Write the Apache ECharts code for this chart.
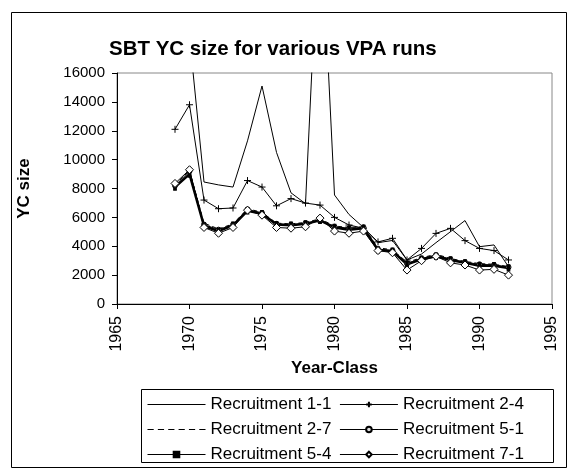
<!DOCTYPE html>
<html>
<head>
<meta charset="utf-8">
<script src="https://cdn.jsdelivr.net/npm/echarts@6/dist/echarts.min.js"></script>
<style>
  html, body { margin: 0; padding: 0; background: #fff; }
  #chart { width: 578px; height: 474px; }
</style>
</head>
<body>
<div id="chart"></div>
<script>
// year classes
var years = [1969, 1970, 1971, 1972, 1973, 1974, 1975, 1976, 1977, 1978, 1979, 1980,
             1981, 1982, 1983, 1984, 1985, 1986, 1987, 1988, 1989, 1990, 1991, 1992];

// YC size per VPA run (values above 16000 run off the top)
var rec11 = [null, 18500, 8450, 8250, 8100, 11300, 15100, 10500, 7700, 6950, 28000, 7550,
             6200, 5300, 4250, 4400, 3050, 3460, 4250, 5010, 5780, 3970, 4090, 2580];
var rec24 = [12100, 13800, 7200, 6600, 6650, 8550, 8100, 6800, 7300, 6990, 6850, 6000,
             5470, 5250, 4300, 4550, 3050, 3850, 4890, 5240, 4390, 3850, 3700, 3050];
var rec27 = [8250, 9250, 5600, 5200, 5550, 6600, 6350, 5600, 5550, 5650, 5900, 5400,
             5300, 5350, 3900, 3750, 2900, 3200, 3450, 3150, 2950, 2800, 2750, 2600];
var rec51 = [8200, 9200, 5500, 5150, 5500, 6550, 6300, 5550, 5500, 5600, 5750, 5350,
             5250, 5300, 3800, 3700, 2800, 3150, 3400, 3100, 2900, 2750, 2700, 2550];
var rec54 = [8100, 9000, 5400, 5050, 5450, 6450, 6250, 5500, 5450, 5550, 5800, 5300,
             5150, 5250, 3750, 3650, 2750, 3100, 3300, 3050, 2850, 2650, 2650, 2500];
var rec71 = [8350, 9300, 5300, 4900, 5300, 6500, 6150, 5300, 5250, 5350, 5950, 5050,
             4900, 5050, 3700, 3550, 2350, 3000, 3300, 2850, 2700, 2350, 2400, 2000];

var FONT = '"Liberation Sans", Arial, sans-serif';
var plusSym = 'path://M0,5H10M5,0V10';
// legend icons for the runs drawn without markers
var plainIcon = 'path://M0,0H58V1H0Z';
var dashIcon = 'path://M0,0H6V1H0Z M10,0H16V1H10Z M20,0H26V1H20Z M30,0H36V1H30Z M40,0H46V1H40Z M50,0H56V1H50Z';

function pairs(vals){
	var out = [];
	for (var i = 0; i < years.length; i++) {
		out.push([years[i], vals[i]]);
	}
	return out;
}

function mkSeries(name, vals, opt){
	var s = {
		name: name,
		type: 'line',
		data: pairs(vals),
		connectNulls: false,
		symbol: 'none',
		symbolSize: 6,
		lineStyle: { color: '#000', width: 1 },
		itemStyle: { color: '#000', borderColor: '#000', borderWidth: 1 },
		emphasis: { disabled: true },
		animation: false
	};
	for (var k in opt) s[k] = opt[k];
	return s;
}

var chart = echarts.init(document.getElementById('chart'), null, { renderer: 'canvas' });

var option = {
	backgroundColor: '#fff',
	animation: false,
	textStyle: { fontFamily: FONT, color: '#000' },
	title: {
		text: 'SBT YC size for various VPA runs',
		left: 104,
		top: 34,
		textStyle: { fontFamily: FONT, fontSize: 20.5, fontWeight: 'bold', color: '#000' }
	},
	graphic: [
		{ type: 'rect', shape: { x: 11.5, y: 12.5, width: 555, height: 455 },
		  style: { fill: 'none', stroke: '#000', lineWidth: 1 }, z: -1 },
		{ type: 'rect', shape: { x: 141.5, y: 389.5, width: 412, height: 73 },
		  style: { fill: 'none', stroke: '#000', lineWidth: 1 }, z: -1 }
	],
	grid: {
		left: 117, right: 26, top: 73, bottom: 170,
		show: true, borderColor: '#888', borderWidth: 1
	},
	legend: {
		left: 147, top: 396, width: 400,
		orient: 'horizontal',
		itemWidth: 58, itemHeight: 7, itemGap: 8,
		padding: 0,
		lineStyle: { width: 1 },
		textStyle: { fontFamily: FONT, fontSize: 17, color: '#000' },
		data: [
			{ name: 'Recruitment 1-1', icon: plainIcon, itemStyle: { color: '#000', borderWidth: 0 } },
			'Recruitment 2-4',
			{ name: 'Recruitment 2-7', icon: dashIcon, itemStyle: { color: '#000', borderWidth: 0 } },
			'Recruitment 5-1', 'Recruitment 5-4', 'Recruitment 7-1'
		]
	},
	xAxis: {
		type: 'value', min: 1965, max: 1995, interval: 5,
		name: 'Year-Class', nameLocation: 'middle', nameGap: 56,
		nameTextStyle: { fontFamily: FONT, fontSize: 17, fontWeight: 'bold', color: '#000' },
		axisLine: { lineStyle: { color: '#000', width: 1 } },
		axisTick: { show: true, length: 5, lineStyle: { color: '#000' } },
		axisLabel: { rotate: 90, margin: 12, fontSize: 16, color: '#000', fontFamily: FONT,
		             formatter: function(v){ return String(v); } },
		splitLine: { show: false }
	},
	yAxis: {
		type: 'value', min: 0, max: 16000, interval: 2000,
		name: 'YC size', nameLocation: 'middle', nameGap: 84, nameRotate: 90,
		nameTextStyle: { fontFamily: FONT, fontSize: 17, fontWeight: 'bold', color: '#000' },
		axisLine: { show: true, lineStyle: { color: '#000', width: 1 } },
		axisTick: { show: true, length: 5, lineStyle: { color: '#000' } },
		axisLabel: { margin: 12, fontSize: 15, color: '#000', fontFamily: FONT,
		             formatter: function(v){ return String(v); } },
		splitLine: { show: false }
	},
	series: [
		mkSeries('Recruitment 1-1', rec11, {}),
		mkSeries('Recruitment 2-4', rec24, { symbol: plusSym, symbolSize: 7,
			itemStyle: { color: 'none', borderColor: '#000', borderWidth: 1 } }),
		mkSeries('Recruitment 2-7', rec27, { lineStyle: { color: '#000', width: 1, type: [4, 3] } }),
		mkSeries('Recruitment 5-1', rec51, { symbol: 'circle', symbolSize: 5,
			itemStyle: { color: '#ddd', borderColor: '#000', borderWidth: 1 } }),
		mkSeries('Recruitment 5-4', rec54, { symbol: 'rect', symbolSize: [3, 6],
			lineStyle: { color: '#000', width: 2.5 } }),
		mkSeries('Recruitment 7-1', rec71, { symbol: 'diamond', symbolSize: 8,
			itemStyle: { color: '#fff', borderColor: '#000', borderWidth: 1 } })
	]
};

chart.setOption(option);
</script>
</body>
</html>
